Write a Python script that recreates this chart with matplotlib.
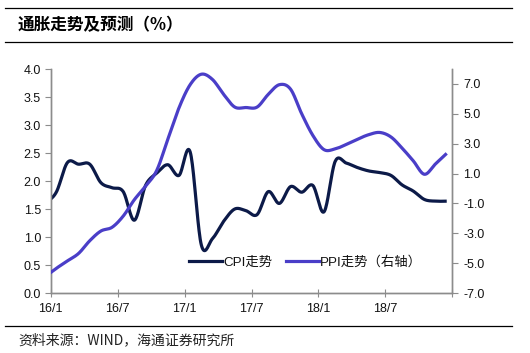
import numpy as np
import matplotlib
matplotlib.use("Agg")
import matplotlib.pyplot as plt
from matplotlib.lines import Line2D

# ---- data (monthly, Dec 2015 .. Dec 2018) ----
months = ["15/12"] + [f"{y}/{m}" for y in (16, 17, 18) for m in range(1, 13)]
cpi = [1.60, 1.80, 2.33, 2.30, 2.30, 1.97, 1.88, 1.81, 1.30, 1.92, 2.14, 2.29, 2.10,
       2.52, 0.86, 0.97, 1.28, 1.50, 1.47, 1.40, 1.81, 1.60, 1.90, 1.80, 1.92,
       1.45, 2.35, 2.32, 2.24, 2.18, 2.15, 2.10, 1.93, 1.82, 1.67, 1.64, 1.64]
ppi = [-5.90, -5.35, -4.85, -4.35, -3.50, -2.85, -2.60, -1.85, -0.75, 0.15, 1.20, 3.30, 5.40,
       6.95, 7.65, 7.30, 6.30, 5.45, 5.42, 5.45, 6.30, 6.95, 6.65, 5.00, 3.55,
       2.60, 2.65, 2.95, 3.30, 3.60, 3.75, 3.45, 2.70, 1.85, 0.95, 1.65, 2.35]
xtick_pos = [0, 6, 12, 18, 24, 30, 36]
xtick_labels = ["16/1", "16/7", "17/1", "17/7", "18/1", "18/7", ""]
left_ticks = [0.0, 0.5, 1.0, 1.5, 2.0, 2.5, 3.0, 3.5, 4.0]
right_ticks = [-7.0, -5.0, -3.0, -1.0, 1.0, 3.0, 5.0, 7.0]

# month positions: points sit mid-month (category centres)
xpos = np.arange(len(months)) - 0.5


def smooth(x, y, n=20):
    """Catmull-Rom style smoothing similar to spreadsheet 'smoothed line'."""
    x = np.asarray(x, float)
    y = np.asarray(y, float)
    m = np.zeros_like(y)
    m[1:-1] = (y[2:] - y[:-2]) / 2.0
    m[0] = y[1] - y[0]
    m[-1] = y[-1] - y[-2]
    xs, ys = [], []
    for k in range(len(x) - 1):
        t = np.linspace(0, 1, n, endpoint=False)
        h00 = 2 * t**3 - 3 * t**2 + 1
        h10 = t**3 - 2 * t**2 + t
        h01 = -2 * t**3 + 3 * t**2
        h11 = t**3 - t**2
        xs.append(x[k] + t * (x[k + 1] - x[k]))
        ys.append(h00 * y[k] + h10 * m[k] + h01 * y[k + 1] + h11 * m[k + 1])
    xs.append([x[-1]])
    ys.append([y[-1]])
    return np.concatenate(xs), np.concatenate(ys)


plt.rcParams['font.family'] = ['Liberation Sans', 'Noto Sans CJK SC', 'DejaVu Sans']

CPI_C = "#0c1a48"
PPI_C = "#4a3ec8"
GRID_C = "#8c8c8c"

fig = plt.figure(figsize=(5.30, 3.53), dpi=100)
W, H = 530, 353

ax = fig.add_axes([50.7 / W, 1 - 293 / H, (452.3 - 50.7) / W, (293 - 69) / H])
ax2 = ax.twinx()

xs, ys = smooth(xpos, cpi)
ax.plot(xs, ys, color=CPI_C, lw=2.3, solid_capstyle='butt', zorder=3)
xs2, ys2 = smooth(xpos, ppi)
ax2.plot(xs2, ys2, color=PPI_C, lw=2.3, solid_capstyle='butt', zorder=3)

ax.set_xlim(0, 36)
ax.set_ylim(0, 4)
ax2.set_ylim(-7, 8)
ax.set_xticks(xtick_pos)
ax.set_xticklabels(xtick_labels)
ax.set_yticks(left_ticks)
ax.set_yticklabels([f"{v:.1f}" for v in left_ticks])
ax2.set_yticks(right_ticks)
ax2.set_yticklabels([f"{v:.1f}" for v in right_ticks])

for a in (ax, ax2):
    a.spines['top'].set_visible(False)
    for s in ('left', 'right', 'bottom'):
        a.spines[s].set_color(GRID_C)
        a.spines[s].set_linewidth(1.0)
ax.tick_params(axis='y', direction='out', length=4, color=GRID_C, labelsize=9, pad=3, labelcolor='#111111')
ax.tick_params(axis='x', direction='inout', length=6, color=GRID_C, labelsize=9, pad=4, labelcolor='#111111')
ax2.tick_params(axis='y', direction='out', length=4, color=GRID_C, labelsize=9, pad=4, labelcolor='#111111')

handles = [Line2D([], [], color=CPI_C, lw=2.3), Line2D([], [], color=PPI_C, lw=2.3)]
leg = ax.legend(handles, ["CPI走势", "PPI走势（右轴）"], ncol=2, frameon=False,
                loc='center left', bbox_to_anchor=(0.33, 0.135), fontsize=9.6,
                handlelength=2.5, handletextpad=0.1, columnspacing=1.0, borderaxespad=0)
for t in leg.get_texts():
    t.set_color('#111111')

# header / footer decorations
fig.add_artist(Line2D([5 / W, 512 / W], [1 - 8 / H, 1 - 8 / H], color='black', lw=0.9))
fig.add_artist(Line2D([5 / W, 512 / W], [1 - 42 / H, 1 - 42 / H], color='black', lw=0.9))
fig.add_artist(Line2D([5 / W, 512 / W], [1 - 326 / H, 1 - 326 / H], color='black', lw=0.9))
fig.text(18 / W, 1 - 25 / H, "通胀走势及预测（%）", fontsize=12, fontweight='bold',
         va='center', ha='left', family=['Noto Sans CJK SC', 'DejaVu Sans'], color='black')
fig.text(18 / W, 1 - 340 / H, "资料来源：WIND，海通证券研究所", fontsize=10,
         va='center', ha='left', family=['Noto Sans CJK SC', 'DejaVu Sans'], color='#222222')

fig.savefig("out.png", dpi=100)
